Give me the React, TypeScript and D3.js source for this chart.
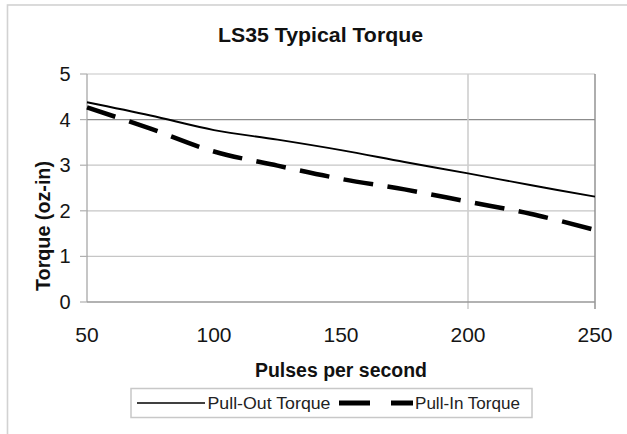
import React, { useEffect, useRef } from "react";
import * as d3 from "d3";

// values
const pullOutPps = [50, 75, 100, 125, 150, 175, 200, 225, 250];
const pullOutTorque = [4.38, 4.09, 3.77, 3.56, 3.33, 3.07, 2.82, 2.56, 2.31];

const pullInPps = [50, 75, 100, 125, 150, 175, 200, 225, 250];
const pullInTorque = [4.27, 3.8, 3.3, 2.99, 2.7, 2.47, 2.2, 1.93, 1.58];

const xTicks = [50, 100, 150, 200, 250];
const yTicks = [0, 1, 2, 3, 4, 5];
const xGrid = [200, 250];

const FONT = '"Liberation Sans", Arial, Helvetica, sans-serif';

type Pt = { x: number; y: number };

export default function App() {
  const ref = useRef<SVGSVGElement | null>(null);

  useEffect(() => {
    const svg = d3.select(ref.current);
    svg.selectAll("*").remove();

    const W = 627;
    const H = 434;
    const left = 87, right = 595, top = 74, bottom = 302;

    svg.append("rect").attr("width", W).attr("height", H).attr("fill", "#fff");

    // outer chart frame (runs off the right and bottom of the picture)
    svg.append("rect").attr("x", 7.5).attr("y", 5).attr("width", 700).attr("height", 500)
      .attr("fill", "none").attr("stroke", "#d2d2d2").attr("stroke-width", 1.6);

    const x = d3.scaleLinear().domain([50, 250]).range([left, right]);
    const y = d3.scaleLinear().domain([0, 5]).range([bottom, top]);

    const g = svg.append("g").attr("font-family", FONT);

    // horizontal gridlines
    yTicks.filter((t) => t > 0).forEach((t) => {
      g.append("line").attr("x1", left).attr("x2", right).attr("y1", y(t)).attr("y2", y(t))
        .attr("stroke", t === 4 ? "#8c8c8c" : "#c6c6c6").attr("stroke-width", 1.2);
    });

    // vertical gridlines (only 200 and the right edge)
    xGrid.forEach((t) => {
      g.append("line").attr("x1", x(t)).attr("x2", x(t)).attr("y1", top).attr("y2", bottom + 7)
        .attr("stroke", t === 250 ? "#8c8c8c" : "#cfcfcf").attr("stroke-width", t === 250 ? 1.4 : 1.6);
    });

    // axes
    g.append("line").attr("x1", left).attr("x2", left).attr("y1", top).attr("y2", bottom)
      .attr("stroke", "#a0a0a0").attr("stroke-width", 1.2);
    g.append("line").attr("x1", left).attr("x2", right).attr("y1", bottom).attr("y2", bottom)
      .attr("stroke", "#999").attr("stroke-width", 1.4);

    yTicks.forEach((t) => {
      g.append("line").attr("x1", left - 7).attr("x2", left).attr("y1", y(t)).attr("y2", y(t))
        .attr("stroke", "#b0b0b0").attr("stroke-width", 1.2);
      g.append("text").attr("x", 70.5).attr("y", y(t) + 7).attr("text-anchor", "end")
        .attr("font-size", 20).attr("fill", "#151515").text(t);
    });

    xTicks.forEach((t) => {
      g.append("text").attr("x", x(t)).attr("y", 341.5).attr("text-anchor", "middle")
        .attr("font-size", 21).attr("fill", "#151515").text(t);
    });

    // series
    const line = d3.line<Pt>().x((d) => x(d.x)).y((d) => y(d.y)).curve(d3.curveCatmullRom);
    const pullOut: Pt[] = pullOutPps.map((p, i) => ({ x: p, y: pullOutTorque[i] }));
    const pullIn: Pt[] = pullInPps.map((p, i) => ({ x: p, y: pullInTorque[i] }));

    g.append("path").datum(pullOut).attr("d", line).attr("fill", "none")
      .attr("stroke", "#000").attr("stroke-width", 1.9);
    g.append("path").datum(pullIn).attr("d", line).attr("fill", "none")
      .attr("stroke", "#000").attr("stroke-width", 4.5).attr("stroke-dasharray", "30,14.5");

    // titles
    svg.append("text").attr("x", 320.5).attr("y", 41.7).attr("text-anchor", "middle")
      .attr("textLength", 205).attr("lengthAdjust", "spacingAndGlyphs")
      .attr("font-family", FONT).attr("font-size", 20).attr("font-weight", "bold")
      .attr("fill", "#111").text("LS35 Typical Torque");

    svg.append("text").attr("x", 341).attr("y", 376.7).attr("text-anchor", "middle")
      .attr("textLength", 172).attr("lengthAdjust", "spacingAndGlyphs")
      .attr("font-family", FONT).attr("font-size", 19.5).attr("font-weight", "bold")
      .attr("fill", "#111").text("Pulses per second");

    svg.append("text").attr("transform", "translate(50,226) rotate(-90)").attr("text-anchor", "middle")
      .attr("textLength", 130).attr("lengthAdjust", "spacingAndGlyphs")
      .attr("font-family", FONT).attr("font-size", 19.5).attr("font-weight", "bold")
      .attr("fill", "#111").text("Torque (oz-in)");

    // legend
    const lg = svg.append("g").attr("font-family", FONT);
    lg.append("rect").attr("x", 131).attr("y", 388.5).attr("width", 401).attr("height", 29)
      .attr("fill", "#fff").attr("stroke", "#c8c8c8").attr("stroke-width", 1.5);
    lg.append("line").attr("x1", 137).attr("x2", 205).attr("y1", 403).attr("y2", 403)
      .attr("stroke", "#000").attr("stroke-width", 1.6);
    lg.append("text").attr("x", 207.5).attr("y", 408.5).attr("textLength", 123).attr("lengthAdjust", "spacingAndGlyphs")
      .attr("font-size", 17).attr("fill", "#222").text("Pull-Out Torque");
    lg.append("line").attr("x1", 339).attr("x2", 413).attr("y1", 403).attr("y2", 403)
      .attr("stroke", "#000").attr("stroke-width", 5).attr("stroke-dasharray", "31,21");
    lg.append("text").attr("x", 415).attr("y", 408.5).attr("textLength", 105).attr("lengthAdjust", "spacingAndGlyphs")
      .attr("font-size", 17).attr("fill", "#222").text("Pull-In Torque");
  }, []);

  return (
    <svg
      ref={ref}
      width={627}
      height={434}
      style={{ position: "absolute", left: 0, top: 0, display: "block" }}
    ></svg>
  );
}
